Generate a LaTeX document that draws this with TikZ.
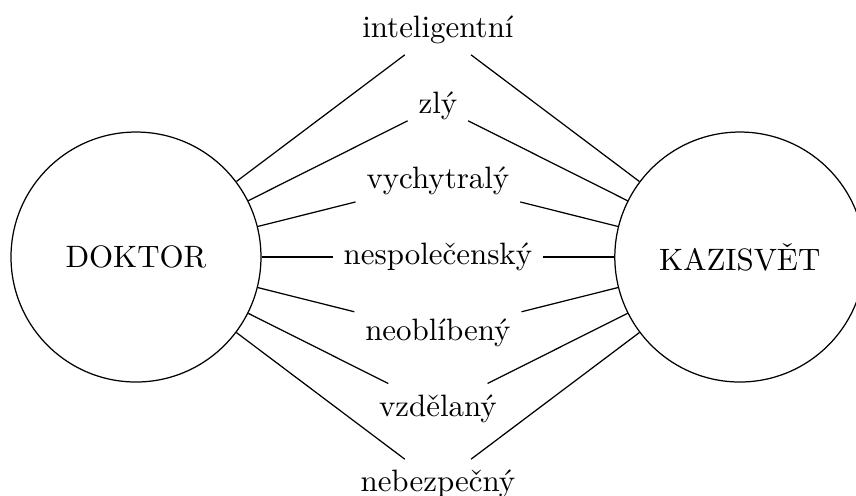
\documentclass[tikz,border=0pt]{standalone}
\usepackage{tikz}

\begin{document}
\begin{tikzpicture}
  \useasboundingbox (-1.545,-2.704) rectangle (8.18,2.92);
  \node[draw,circle,minimum size=2.84cm] (doktor) at (0,0) {DOKTOR};
  \node[draw,circle,minimum size=2.84cm] (kazisvet) at (6.86,0) {KAZISVĚT};
  \node (intel) at (3.43,2.58) {inteligentní};
  \node (zly) at (3.43,1.72) {zlý};
  \node (vych) at (3.43,0.86) {vychytralý};
  \node (nesp) at (3.43,0) {nespolečenský};
  \node (neobl) at (3.43,-0.86) {neoblíbený};
  \node (vzdel) at (3.43,-1.72) {vzdělaný};
  \node (nebez) at (3.43,-2.58) {nebezpečný};
  \foreach \w in {intel,zly,vych,nesp,neobl,vzdel,nebez}
    \draw (doktor) -- (\w) -- (kazisvet);
\end{tikzpicture}
\end{document}
